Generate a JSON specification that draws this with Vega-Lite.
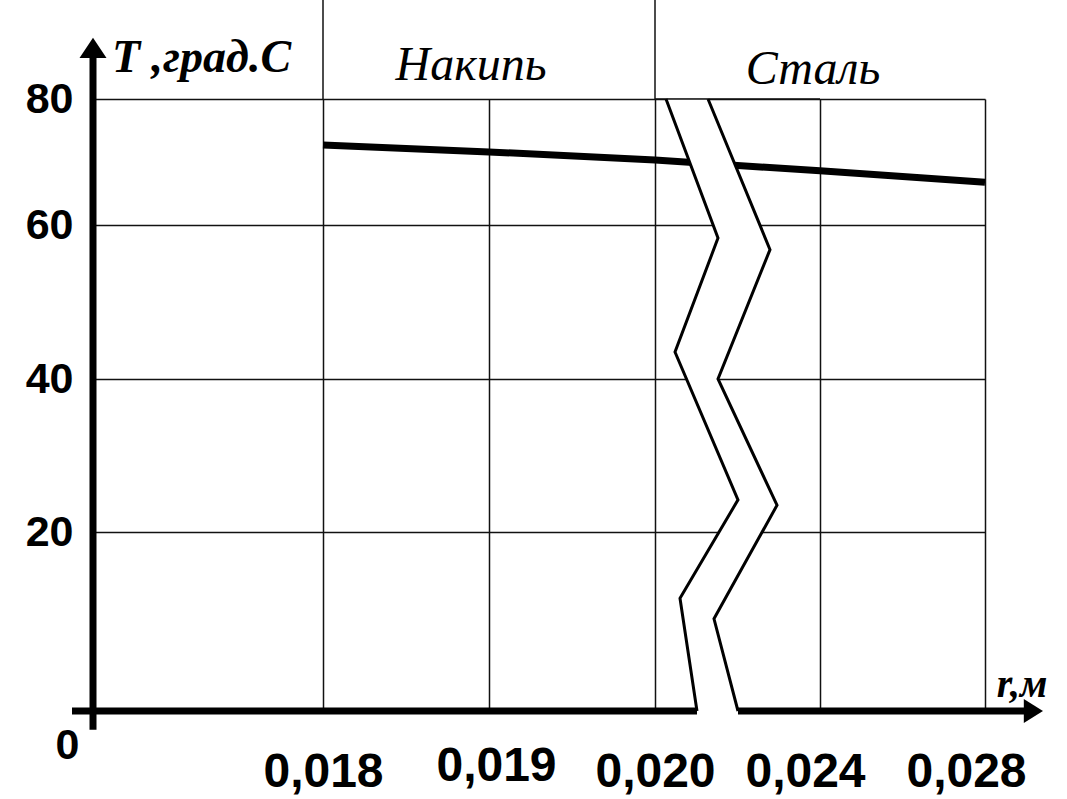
{
  "$schema": "https://vega.github.io/schema/vega-lite/v6.json",
  "width": 892,
  "height": 612,
  "autosize": {"type": "none"},
  "padding": {"left": 93, "top": 99, "right": 82, "bottom": 88},
  "background": "white",
  "config": {"view": {"stroke": null}},
  "datasets": {
    "curve": [
      {"r": 0.018, "T": 72.7},
      {"r": 0.019, "T": 71.6},
      {"r": 0.020, "T": 70.3},
      {"r": 0.024, "T": 68.6},
      {"r": 0.028, "T": 66.8}
    ],
    "zig": [
      {"side": "L", "k": 1, "r": 0.020267, "T": 80},
      {"side": "L", "k": 2, "r": 0.021527, "T": 58.3},
      {"side": "L", "k": 3, "r": 0.020485, "T": 43.5},
      {"side": "L", "k": 4, "r": 0.022012, "T": 24.2},
      {"side": "L", "k": 5, "r": 0.020606, "T": 12.6},
      {"side": "L", "k": 6, "r": 0.021018, "T": 0},
      {"side": "R", "k": 7, "r": 0.022012, "T": 0},
      {"side": "R", "k": 8, "r": 0.021430, "T": 10.3},
      {"side": "R", "k": 9, "r": 0.022958, "T": 23.5},
      {"side": "R", "k": 10, "r": 0.021527, "T": 40},
      {"side": "R", "k": 11, "r": 0.022788, "T": 56.8},
      {"side": "R", "k": 12, "r": 0.021285, "T": 80}
    ],
    "axislines": [
      {"name": "x1", "r": 0.016488, "r2": 0.021018, "T": 0, "T2": 0},
      {"name": "x2", "r": 0.022012, "r2": 0.029212, "T": 0, "T2": 0},
      {"name": "y", "r": 0.0166145, "r2": 0.0166145, "T": -2.1, "T2": 88.1}
    ],
    "ext": [
      {"r": 0.018, "r2": 0.018, "T": 80, "T2": 95.7},
      {"r": 0.020, "r2": 0.020, "T": 80, "T2": 95.7},
      {"r": 0.020, "r2": 0.024, "T": 80, "T2": 80}
    ],
    "arrowUp": [{"r": 0.0166145, "T": 88.1}],
    "arrowRight": [{"r": 0.029173, "T": 0}],
    "ytitle": [{"r": 0.016729, "T": 84.3, "text": "T ,град.C"}],
    "xtitle": [{"r": 0.028897, "T": 1.56, "text": "r,м"}],
    "regions": [
      {"r": 0.018892, "T": 83.0, "text": "Накипь"},
      {"r": 0.02383, "T": 82.4, "text": "Сталь"}
    ]
  },
  "encoding": {
    "x": {
      "field": "r", "type": "quantitative",
      "scale": {"type": "linear", "domain": [0.0166145, 0.018, 0.019, 0.020, 0.024, 0.028], "range": [0, 230, 396, 562, 727, 892], "nice": false, "zero": false},
      "axis": {
        "values": [0.018, 0.019, 0.020, 0.024, 0.028],
        "labelExpr": "replace(format(datum.value, '.3f'), '.', ',')",
        "title": null, "domain": false, "ticks": false, "tickSize": 0,
        "grid": true, "gridColor": "#111", "gridWidth": 1.5,
        "labelFont": "Liberation Sans", "labelFontWeight": "bold", "labelFontSize": 48, "labelColor": "black",
        "labelBaseline": "middle",
        "labelPadding": {"condition": {"test": "abs(datum.value-0.019)<0.00001", "value": 55}, "value": 61},
        "labelOffset": {"condition": [
          {"test": "abs(datum.value-0.024)<0.00001", "value": -15},
          {"test": "abs(datum.value-0.028)<0.00001", "value": -19},
          {"test": "abs(datum.value-0.019)<0.00001", "value": 7}
        ], "value": 0},
        "labelOverlap": false, "labelFlush": false, "labelBound": false
      }
    },
    "y": {
      "field": "T", "type": "quantitative",
      "scale": {"type": "linear", "domain": [0, 20, 40, 60, 80], "range": [612, 433, 280, 126, 0], "nice": false, "zero": false},
      "axis": {
        "values": [0, 20, 40, 60, 80],
        "title": null, "domain": false, "ticks": false, "tickSize": 0,
        "grid": true, "gridColor": "#111", "gridWidth": 1.5,
        "gridOpacity": {"condition": {"test": "datum.value == 0", "value": 0}, "value": 1},
        "labelFont": "Liberation Sans", "labelFontWeight": "bold", "labelFontSize": 43, "labelColor": "black",
        "labelBaseline": "middle", "labelAlign": "right",
        "labelPadding": {"condition": {"test": "datum.value == 0", "value": 14}, "value": 20},
        "labelOffset": {"condition": {"test": "datum.value == 0", "value": 34}, "value": 0},
        "labelOverlap": false, "labelFlush": false, "labelBound": false
      }
    }
  },
  "layer": [
    {
      "data": {"name": "curve"},
      "mark": {"type": "line", "color": "black", "strokeWidth": 7, "strokeCap": "butt"}
    },
    {
      "data": {"name": "zig"},
      "mark": {"type": "line", "fill": "white", "stroke": "white", "strokeWidth": 1},
      "encoding": {
        "order": {"field": "k", "type": "quantitative"}
      }
    },
    {
      "data": {"name": "ext"},
      "mark": {"type": "rule", "color": "#111", "strokeWidth": 1.5},
      "encoding": {
        "x2": {"field": "r2"},
        "y2": {"field": "T2"}
      }
    },
    {
      "data": {"name": "zig"},
      "mark": {"type": "line", "color": "black", "strokeWidth": 3, "strokeJoin": "miter"},
      "encoding": {
        "detail": {"field": "side", "type": "nominal"},
        "order": {"field": "k", "type": "quantitative"}
      }
    },
    {
      "data": {"name": "axislines"},
      "mark": {"type": "rule", "color": "black", "strokeWidth": 7},
      "encoding": {
        "x2": {"field": "r2"},
        "y2": {"field": "T2"}
      }
    },
    {
      "data": {"name": "arrowUp"},
      "mark": {"type": "point", "shape": "M-1,0.75 L0,-0.75 L1,0.75 Z", "size": 729, "filled": true, "color": "black", "opacity": 1}
    },
    {
      "data": {"name": "arrowRight"},
      "mark": {"type": "point", "shape": "M-0.8,-1 L0.8,0 L-0.8,1 Z", "size": 576, "filled": true, "color": "black", "opacity": 1}
    },
    {
      "data": {"name": "ytitle"},
      "mark": {"type": "text", "font": "Liberation Serif", "fontStyle": "italic", "fontWeight": "bold", "fontSize": 46, "align": "left", "baseline": "alphabetic", "color": "black"},
      "encoding": {"text": {"field": "text"}}
    },
    {
      "data": {"name": "xtitle"},
      "mark": {"type": "text", "font": "Liberation Serif", "fontStyle": "italic", "fontWeight": "bold", "fontSize": 40, "align": "center", "baseline": "alphabetic", "color": "black"},
      "encoding": {"text": {"field": "text"}}
    },
    {
      "data": {"name": "regions"},
      "mark": {"type": "text", "font": "Liberation Serif", "fontStyle": "italic", "fontSize": 48, "align": "center", "baseline": "alphabetic", "color": "black"},
      "encoding": {"text": {"field": "text"}}
    }
  ]
}
